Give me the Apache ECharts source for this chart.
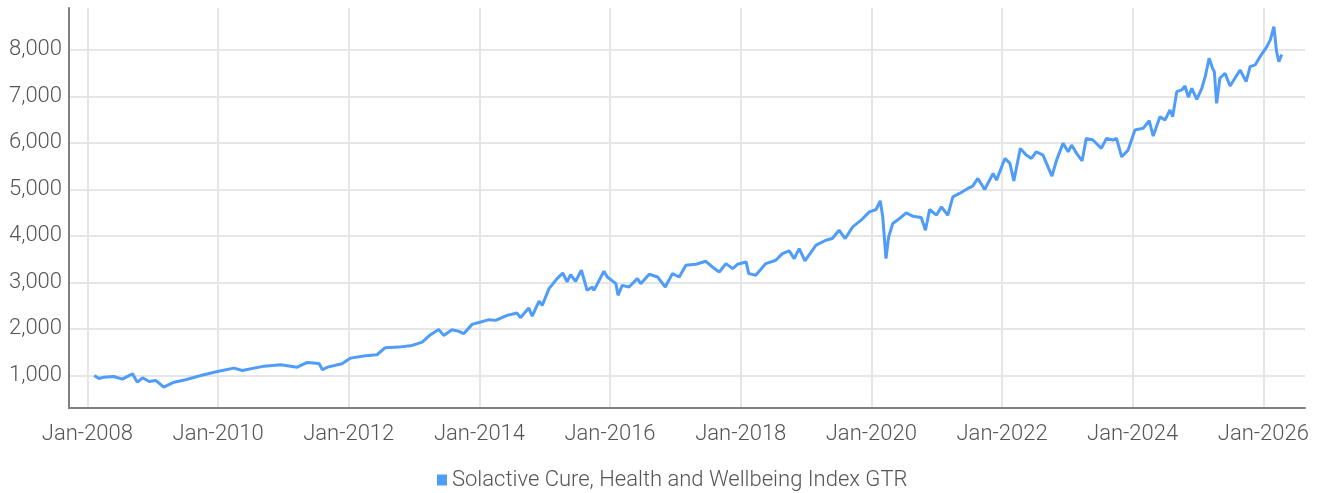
<!DOCTYPE html>
<html>
<head>
<meta charset="utf-8">
<script src="https://cdn.jsdelivr.net/npm/echarts@6/dist/echarts.min.js"></script>
<style>
html,body{margin:0;padding:0;background:#fff;}
#chart{width:1319px;height:493px;}
</style>
</head>
<body>
<div id="chart"></div>
<script>
const seriesName = 'Solactive Cure, Health and Wellbeing Index GTR';
const dates = [
'2008-02-08','2008-03-05','2008-04-03','2008-05-28','2008-07-14','2008-09-09','2008-10-06','2008-11-04','2008-12-11',
'2009-01-17','2009-03-03','2009-04-29','2009-07-03','2009-09-26','2009-12-28',
'2010-03-30','2010-05-16','2010-09-15','2010-12-17',
'2011-03-19','2011-05-14','2011-07-19','2011-08-07','2011-09-05','2011-11-24',
'2012-01-10','2012-04-03','2012-06-07','2012-07-23','2012-10-07','2012-12-20',
'2013-02-15','2013-04-02','2013-05-18','2013-06-15','2013-08-01','2013-09-08','2013-10-05','2013-11-21',
'2014-01-08','2014-02-24','2014-04-01','2014-06-05','2014-07-30','2014-08-18','2014-10-04','2014-10-23','2014-11-30','2014-12-18',
'2015-01-25','2015-03-11','2015-04-12','2015-05-06','2015-05-26','2015-06-22','2015-07-25','2015-08-26','2015-09-24','2015-10-03','2015-11-28','2015-12-17',
'2016-02-03','2016-02-15','2016-03-09','2016-04-16','2016-06-02','2016-06-21','2016-08-07','2016-09-23','2016-11-05','2016-12-15',
'2017-01-22','2017-02-28','2017-04-25','2017-06-20','2017-07-26','2017-09-03','2017-10-10','2017-11-17','2017-12-14',
'2018-01-31','2018-02-15','2018-03-26','2018-05-21','2018-07-16','2018-08-22','2018-09-29','2018-10-27','2018-11-24','2018-12-26',
'2019-02-26','2019-04-22','2019-05-28','2019-07-05','2019-08-08','2019-09-19','2019-11-05','2019-12-21',
'2020-01-28','2020-02-20','2020-03-05','2020-03-23','2020-04-07','2020-04-30','2020-06-07','2020-07-14','2020-08-20','2020-10-06','2020-10-30','2020-11-22','2020-12-30',
'2021-01-27','2021-03-04','2021-04-01','2021-05-08','2021-06-24','2021-07-21','2021-08-19','2021-09-26','2021-11-12','2021-12-01',
'2022-01-17','2022-02-14','2022-03-08','2022-04-13','2022-05-16','2022-06-14','2022-07-11','2022-08-18','2022-10-07','2022-11-02','2022-12-08',
'2023-01-06','2023-01-25','2023-02-22','2023-03-25','2023-04-17','2023-05-24','2023-07-10','2023-08-08','2023-09-14','2023-10-03','2023-11-01','2023-12-07',
'2024-01-14','2024-02-29','2024-04-03','2024-04-25','2024-06-02','2024-06-30','2024-07-28','2024-08-12','2024-09-04','2024-10-02','2024-10-20','2024-11-08','2024-11-27','2024-12-25',
'2025-01-22','2025-02-10','2025-03-04','2025-03-23','2025-04-02','2025-04-15','2025-05-03','2025-06-01','2025-06-29','2025-07-26','2025-08-24','2025-09-27','2025-10-19','2025-11-16','2025-12-14',
'2026-01-21','2026-02-09','2026-03-01','2026-03-16','2026-03-29','2026-04-14'
];
const values = [
1000,935,963,978,920,1035,855,950,870,
892,747,855,907,1000,1085,
1157,1107,1200,1230,
1178,1280,1255,1122,1178,1251,
1372,1424,1445,1596,1609,1645,
1717,1876,1990,1861,1984,1947,1898,2098,
2148,2199,2184,2292,2341,2242,2449,2277,2600,2507,
2867,3082,3203,3015,3168,3020,3261,2830,2901,2830,3239,3116,
2974,2722,2937,2901,3082,2974,3175,3116,2901,3189,
3116,3368,3390,3455,3332,3224,3405,3297,3390,
3440,3189,3153,3405,3476,3620,3677,3513,3728,3461,
3800,3907,3943,4122,3943,4194,4338,4517,
4568,4754,4409,3513,3978,4267,4374,4495,4424,4396,4122,4568,4445,
4624,4445,4839,4913,5020,5070,5236,4999,5344,5199,
5666,5559,5184,5882,5738,5666,5809,5738,5285,5630,5989,
5809,5953,5774,5615,6097,6061,5882,6097,6061,6097,5701,5845,
6276,6313,6476,6147,6563,6491,6707,6563,7101,7138,7224,6980,7174,6937,
7174,7424,7820,7605,7532,6851,7390,7497,7224,7390,7568,7317,7640,7676,7855,
8070,8214,8501,7963,7747,7900
];
const yTicks = [1000,2000,3000,4000,5000,6000,7000,8000];
const xTickYears = [2008,2010,2012,2014,2016,2018,2020,2022,2024,2026];

function ts(s) { const p = s.split('-').map(Number); return Date.UTC(p[0], p[1] - 1, p[2]); }
const xTicks = xTickYears.map(y => Date.UTC(y, 0, 1));
const data = dates.map((d, i) => [ts(d), values[i]]);
const font = 'Roboto, "Noto Sans", sans-serif';
const chart = echarts.init(document.getElementById('chart'), null, {renderer: 'canvas'});
chart.setOption({
  animation: false,
  backgroundColor: '#ffffff',
  grid: {left: 69, right: 14, top: 8, bottom: 85, containLabel: false},
  legend: {
    data: [seriesName],
    bottom: 2,
    left: 437,
    padding: 0,
    icon: 'rect',
    itemWidth: 10,
    itemHeight: 11,
    textStyle: {fontFamily: font, fontSize: 22, fontWeight: 300, color: '#555'}
  },
  xAxis: {
    type: 'value',
    min: Date.UTC(2007, 8, 20),
    max: Date.UTC(2026, 7, 22),
    axisLine: {show: true, lineStyle: {color: '#808080', width: 2}},
    axisTick: {show: false, customValues: xTicks},
    axisLabel: {
      customValues: xTicks,
      formatter: v => 'Jan-' + new Date(v).getUTCFullYear(),
      fontFamily: font, fontSize: 22, fontWeight: 300, color: '#555', margin: 15
    },
    splitLine: {show: true, lineStyle: {color: '#e6e6e6', width: 2}}
  },
  yAxis: {
    type: 'value',
    min: 300,
    max: 8900,
    axisLine: {show: true, lineStyle: {color: '#808080', width: 2}},
    axisTick: {show: false, customValues: yTicks},
    axisLabel: {
      customValues: yTicks,
      formatter: v => v.toLocaleString('en-US'),
      fontFamily: font, fontSize: 22, fontWeight: 300, color: '#555', margin: 7
    },
    splitLine: {show: true, lineStyle: {color: '#e6e6e6', width: 2}}
  },
  series: [{
    name: seriesName,
    type: 'line',
    data: data,
    showSymbol: false,
    symbol: 'none',
    itemStyle: {color: '#4f9cf9'},
    lineStyle: {color: '#4f9cf9', width: 3}
  }]
});
</script>
</body>
</html>
